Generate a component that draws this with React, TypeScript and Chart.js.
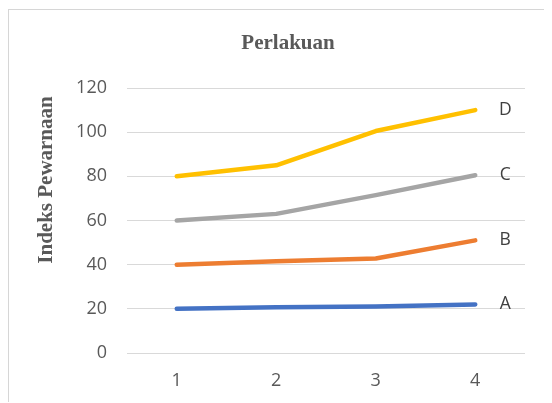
import React, { useEffect, useRef } from "react";
import { Chart, registerables } from "chart.js";

Chart.register(...registerables);

const categories = ["1", "2", "3", "4"];
const seriesNames = ["A", "B", "C", "D"];
const seriesA = [20, 20.7, 21.1, 22];
const seriesB = [40, 41.5, 42.8, 51];
const seriesC = [60, 63, 71.5, 80.5];
const seriesD = [80, 85, 100.5, 110];
const seriesColors = ["#4472C4", "#ED7D31", "#A5A5A5", "#FFC000"];
const chartTitle = "Perlakuan";
const yAxisTitle = "Indeks Pewarnaan";
const yMin = 0;
const yMax = 120;
const yStep = 20;

const TICK_FONT = "'Open Sans', 'Liberation Sans', sans-serif";
const SERIF_FONT = "'Liberation Serif', 'DejaVu Serif', serif";

const endLabelsPlugin = {
  id: "endLabels",
  afterDatasetsDraw(chart: any) {
    const ctx = chart.ctx;
    ctx.save();
    ctx.font = `17.5px ${TICK_FONT}`;
    ctx.fillStyle = "#404040";
    ctx.textAlign = "center";
    ctx.textBaseline = "middle";
    chart.data.datasets.forEach((ds: any, i: number) => {
      const meta = chart.getDatasetMeta(i);
      const pt = meta.data[meta.data.length - 1];
      if (!pt) return;
      ctx.fillText(ds.label, pt.x + 30, pt.y);
    });
    ctx.restore();
  },
};

const titlesPlugin = {
  id: "titles",
  afterDraw(chart: any) {
    const ctx = chart.ctx;
    ctx.save();
    ctx.fillStyle = "#595959";
    ctx.font = `bold 21px ${SERIF_FONT}`;
    ctx.textAlign = "center";
    ctx.textBaseline = "middle";
    ctx.fillText(chartTitle, 279, 34);
    ctx.translate(38, 170);
    ctx.rotate(-Math.PI / 2);
    ctx.fillText(yAxisTitle, 0, 0);
    ctx.restore();
  },
};

export default function App() {
  const canvasRef = useRef<HTMLCanvasElement | null>(null);

  useEffect(() => {
    if (!canvasRef.current) return;
    const series = [seriesA, seriesB, seriesC, seriesD];
    const chart = new Chart(canvasRef.current, {
      type: "line",
      data: {
        labels: categories,
        datasets: series.map((values, i) => ({
          label: seriesNames[i],
          data: values,
          borderColor: seriesColors[i],
          backgroundColor: seriesColors[i],
          borderWidth: 4.5,
          borderCapStyle: "round",
          borderJoinStyle: "round",
          pointRadius: 0,
          pointHoverRadius: 0,
          tension: 0,
          fill: false,
        })),
      },
      options: {
        animation: false,
        responsive: false,
        maintainAspectRatio: false,
        events: [],
        layout: { padding: { top: 78, right: 27, left: 0, bottom: 0 } },
        plugins: {
          legend: { display: false },
          title: { display: false },
          tooltip: { enabled: false },
        },
        scales: {
          x: {
            type: "category",
            offset: true,
            grid: { display: false, drawTicks: false },
            border: { display: false },
            ticks: {
              color: "#595959",
              font: { family: TICK_FONT, size: 18 },
              padding: 17,
            },
            afterFit: (s: any) => {
              s.height = 50;
            },
          },
          y: {
            min: yMin,
            max: yMax,
            grid: { color: "#D9D9D9", lineWidth: 1, drawTicks: false },
            border: { display: false },
            ticks: {
              stepSize: yStep,
              color: "#595959",
              font: { family: TICK_FONT, size: 18 },
              padding: 20,
            },
            afterFit: (s: any) => {
              s.width = 118;
            },
          },
        },
      },
      plugins: [endLabelsPlugin, titlesPlugin],
    });
    return () => chart.destroy();
  }, []);

  return (
    <div
      style={{
        position: "relative",
        top: 1,
        width: 544,
        height: 394,
        borderLeft: "1px solid #d6d6d6",
        borderTop: "1px solid #d6d6d6",
        boxSizing: "border-box",
        overflow: "hidden",
      }}
    >
      <canvas ref={canvasRef} width={543} height={393} style={{ display: "block" }} />
    </div>
  );
}
